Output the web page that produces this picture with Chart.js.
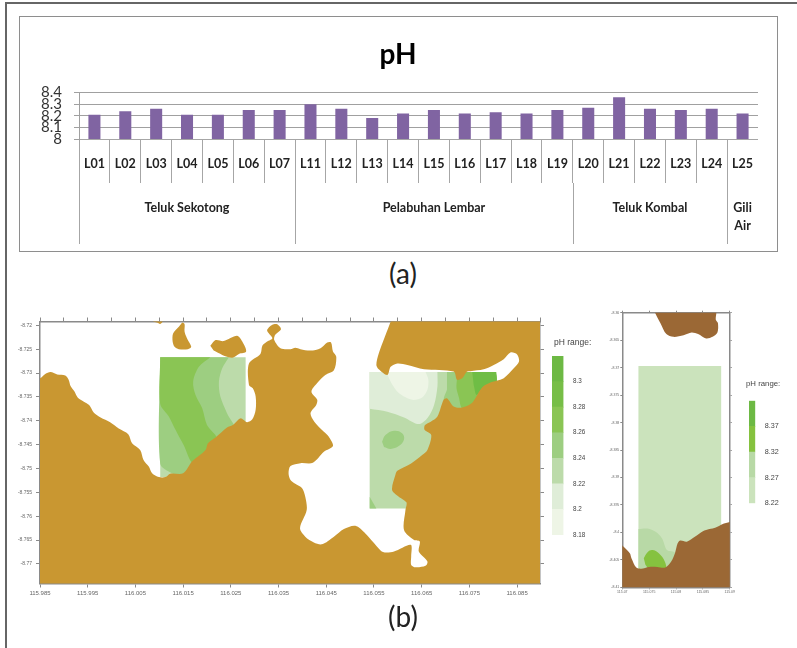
<!DOCTYPE html>
<html>
<head>
<meta charset="utf-8">
<script src="https://cdn.jsdelivr.net/npm/chart.js@4"></script>
<style>
  body { margin: 0; background: #fff; width: 797px; height: 648px; overflow: hidden; position: relative; }
  canvas, .frame, .caption, .range-title { position: absolute; }
  .page-frame { left: 5px; top: 2px; width: 800px; height: 660px; border-left: 2px solid #666; border-top: 2px solid #666; }
  .bar-frame { left: 19px; top: 16px; width: 757px; height: 234px; border: 1.5px solid #8e8e8e; }
  .caption { font: 28px Lato, sans-serif; color: #222; width: 60px; text-align: center; left: 373px; }
  .range-title { font-family: "Liberation Sans", sans-serif; color: #444; will-change: transform; }
  #phBars { left: 38px; top: 18px; }
  #mapLombok { left: 8px; top: 317px; }
  #rangeLombok { left: 552px; top: 350px; }
  #mapGili { left: 608px; top: 310px; }
  #rangeGili { left: 749px; top: 395px; }
</style>
</head>
<body>
<div class="frame page-frame"></div>
<div class="frame bar-frame"></div>
<canvas id="phBars" width="720" height="233"></canvas>
<div class="caption" style="top:256px">(a)</div>
<canvas id="mapLombok" width="537" height="284"></canvas>
<canvas id="rangeLombok" width="42" height="192"></canvas>
<div class="range-title" style="left:554px;top:337px;font-size:8.5px">pH range:</div>
<canvas id="mapGili" width="128" height="290"></canvas>
<canvas id="rangeGili" width="40" height="115"></canvas>
<div class="range-title" style="left:746px;top:379px;font-size:7.8px">pH range:</div>
<div class="caption" style="top:599px">(b)</div>
<script>
// (a) bar chart
const stations = ['L01', 'L02', 'L03', 'L04', 'L05', 'L06', 'L07', 'L11', 'L12', 'L13', 'L14', 'L15', 'L16', 'L17', 'L18', 'L19', 'L20', 'L21', 'L22', 'L23', 'L24', 'L25'];
const phValues = [8.21, 8.24, 8.26, 8.21, 8.21, 8.25, 8.25, 8.3, 8.26, 8.18, 8.22, 8.25, 8.22, 8.23, 8.22, 8.25, 8.27, 8.36, 8.26, 8.25, 8.26, 8.22];
const phTicks = [8, 8.1, 8.2, 8.3, 8.4];
const groupNames = [['Teluk Sekotong'], ['Pelabuhan Lembar'], ['Teluk Kombal'], ['Gili', 'Air']];
const groupCounts = [7, 9, 5, 1];

// (b) left map, lon/lat
const lombokXLabels = [115.985, 115.995, 116.005, 116.015, 116.025, 116.035, 116.045, 116.055, 116.065, 116.075, 116.085];
const lombokXMarks = [115.985, 115.99, 115.995, 116, 116.005, 116.01, 116.015, 116.02, 116.025, 116.03, 116.035, 116.04, 116.045, 116.05, 116.055, 116.06, 116.065, 116.07, 116.075, 116.08, 116.085, 116.09];
const lombokYLabels = [-8.72, -8.725, -8.73, -8.735, -8.74, -8.745, -8.75, -8.755, -8.76, -8.765, -8.77];

const lombokCoast = [
  [115.98, -8.7325], [115.985, -8.7311], [115.9861, -8.7302], [115.9872, -8.7298], [115.9886, -8.7303], [115.9903, -8.7305],
  [115.991, -8.7314], [115.9914, -8.7327], [115.9922, -8.7338], [115.9929, -8.7351], [115.9942, -8.736], [115.9953, -8.7367],
  [115.9963, -8.7383], [115.9977, -8.7393], [115.9997, -8.7403], [116.0015, -8.7416], [116.0035, -8.7428], [116.0043, -8.7447],
  [116.006, -8.7461], [116.0067, -8.7482], [116.0078, -8.7496], [116.0085, -8.751], [116.0099, -8.7518], [116.0113, -8.7518],
  [116.0123, -8.7511], [116.015, -8.751], [116.0169, -8.7485], [116.0197, -8.7461], [116.0202, -8.7447], [116.0218, -8.7435],
  [116.0242, -8.7414], [116.0254, -8.7409], [116.027, -8.7395], [116.0284, -8.7403], [116.0295, -8.7397], [116.0302, -8.7377],
  [116.0302, -8.7349], [116.0296, -8.7332], [116.0288, -8.7325], [116.0288, -8.728], [116.0312, -8.726], [116.0316, -8.7243],
  [116.0326, -8.7234], [116.0337, -8.7227], [116.0326, -8.7211], [116.0337, -8.7199], [116.0347, -8.7198], [116.0355, -8.7208],
  [116.0343, -8.722], [116.0341, -8.7231], [116.0354, -8.7248], [116.0375, -8.725], [116.0385, -8.7247], [116.0396, -8.725],
  [116.0417, -8.7253], [116.0438, -8.7248], [116.0452, -8.7236], [116.046, -8.7236], [116.0464, -8.7255], [116.0471, -8.7266],
  [116.0466, -8.7294], [116.0448, -8.7304], [116.0431, -8.7321], [116.0419, -8.7339], [116.0431, -8.7356], [116.0429, -8.7367],
  [116.0417, -8.7384], [116.0425, -8.7402], [116.0445, -8.7423], [116.0455, -8.7433], [116.0464, -8.7453], [116.0445, -8.7465],
  [116.0422, -8.7488], [116.0396, -8.7489], [116.0375, -8.7495], [116.0371, -8.751], [116.0375, -8.7524], [116.0385, -8.7532],
  [116.0399, -8.7541], [116.0406, -8.7559], [116.0409, -8.7587], [116.0395, -8.7625], [116.0406, -8.7643], [116.0424, -8.7655],
  [116.0441, -8.7659], [116.0466, -8.7643], [116.0487, -8.7627], [116.0511, -8.762], [116.0532, -8.7636], [116.055, -8.7656],
  [116.0569, -8.7675], [116.0592, -8.7674], [116.0627, -8.766], [116.0628, -8.7684], [116.0628, -8.7702], [116.0637, -8.7707],
  [116.0658, -8.7704], [116.0662, -8.7695], [116.0644, -8.7674], [116.0646, -8.7653], [116.0634, -8.765], [116.0613, -8.7629],
  [116.0616, -8.7587], [116.0618, -8.7571], [116.0602, -8.7559], [116.0588, -8.7545], [116.0595, -8.7513], [116.0599, -8.7505],
  [116.0627, -8.749], [116.0651, -8.7472], [116.0662, -8.7461], [116.067, -8.743], [116.0656, -8.7419], [116.0657, -8.7409],
  [116.0669, -8.7402], [116.0683, -8.7391], [116.0696, -8.7356], [116.0703, -8.7353], [116.0717, -8.737], [116.0735, -8.7372],
  [116.0756, -8.7362], [116.0777, -8.733], [116.0794, -8.732], [116.0807, -8.7316], [116.0822, -8.7311], [116.0843, -8.729],
  [116.0854, -8.7276], [116.085, -8.7261], [116.0836, -8.7257], [116.0822, -8.7271], [116.0801, -8.7283], [116.078, -8.7292],
  [116.0752, -8.7296], [116.0745, -8.7297], [116.0735, -8.7311], [116.0724, -8.7314], [116.0717, -8.7297], [116.0655, -8.7292],
  [116.062, -8.7283], [116.0599, -8.728], [116.0585, -8.7287], [116.0578, -8.7304], [116.056, -8.7292], [116.0555, -8.7283],
  [116.056, -8.7259], [116.0585, -8.7192], [116.0596, -8.716], [116.095, -8.716], [116.095, -8.779], [115.98, -8.779]
];
const islandTop = [[116.0087, -8.7192], [116.0095, -8.7194], [116.0102, -8.7197], [116.0107, -8.7192], [116.0107, -8.718], [116.0087, -8.718]];
const islandMiddle = [
  [116.0148, -8.7194], [116.0153, -8.7197], [116.0153, -8.7213], [116.0158, -8.7227], [116.0167, -8.7245], [116.016, -8.725],
  [116.0141, -8.725], [116.0132, -8.7245], [116.0128, -8.7234], [116.0129, -8.7217], [116.0141, -8.7203]
];
const islandEast = [
  [116.0207, -8.7243], [116.0218, -8.7231], [116.0235, -8.7233], [116.0263, -8.7222], [116.0274, -8.7234], [116.0282, -8.7255],
  [116.0267, -8.726], [116.0253, -8.7268], [116.0232, -8.7262], [116.0214, -8.7253]
];

const sekotongBox = [[116.0102, -8.7267], [116.0281, -8.7267], [116.0281, -8.7518], [116.0102, -8.7518]];
const sekotongMid = [
  [116.0246, -8.7267], [116.0232, -8.729], [116.0225, -8.7318], [116.0228, -8.7349], [116.0242, -8.7384], [116.026, -8.7426],
  [116.0158, -8.7524], [116.0127, -8.751], [116.0102, -8.749], [116.0102, -8.7267], [116.0102, -8.7267]
];
const sekotongHigh = [
  [116.0207, -8.7267], [116.0183, -8.7287], [116.0171, -8.7318], [116.0176, -8.7346], [116.019, -8.7374], [116.02, -8.7409],
  [116.0221, -8.744], [116.0172, -8.7489], [116.0151, -8.7451], [116.0134, -8.7419], [116.012, -8.7391], [116.0102, -8.7365],
  [116.0102, -8.7267], [116.0102, -8.7267]
];
const lembarBox = [[116.0541, -8.7298], [116.0806, -8.7298], [116.0806, -8.7584], [116.0541, -8.7584]];
const lembarPale = [
  [116.0541, -8.7298], [116.0541, -8.7298], [116.0683, -8.7298], [116.0683, -8.7298], [116.0683, -8.7328], [116.0676, -8.7367],
  [116.0663, -8.7393], [116.0644, -8.7407], [116.0613, -8.7393], [116.0578, -8.7381], [116.0541, -8.7375], [116.0541, -8.7375]
];
const lembarPalest = [
  [116.0576, -8.7298], [116.0585, -8.7318], [116.0602, -8.7342], [116.063, -8.7356], [116.0651, -8.7351], [116.0662, -8.7335],
  [116.0664, -8.7314], [116.0658, -8.7298], [116.0658, -8.7298], [116.0576, -8.7298]
];
const lembarMid = [
  [116.0703, -8.7298], [116.0703, -8.7298], [116.0806, -8.7298], [116.0806, -8.7298], [116.0806, -8.7328], [116.0752, -8.7377],
  [116.0703, -8.7374], [116.0696, -8.7356], [116.0703, -8.7335]
];
const lembarHigh = [
  [116.0738, -8.7298], [116.0738, -8.7298], [116.0806, -8.7298], [116.0806, -8.7298], [116.0806, -8.7328], [116.0756, -8.737],
  [116.0735, -8.7374], [116.0728, -8.7351], [116.0723, -8.7332], [116.0724, -8.7311]
];
const lembarTop = [
  [116.0756, -8.7298], [116.0756, -8.7298], [116.0806, -8.7298], [116.0806, -8.7298], [116.0806, -8.7318], [116.0777, -8.7332],
  [116.0765, -8.7346], [116.0759, -8.7325]
];
const lembarOval = [
  [116.0567, -8.7444], [116.0574, -8.743], [116.0592, -8.7421], [116.0609, -8.7426], [116.0613, -8.7439], [116.0602, -8.7453],
  [116.0585, -8.7459], [116.0571, -8.7455]
];
const lembarCorner = [[116.0541, -8.7559], [116.0555, -8.7584], [116.0541, -8.7584]];

const lombokLevels = [8.18, 8.2, 8.22, 8.24, 8.26, 8.28, 8.3, 8.32];
const lombokLevelLabels = [8.18, 8.2, 8.22, 8.24, 8.26, 8.28, 8.3];
const lombokLevelColors = ['#eef5e6', '#dfedd8', '#bcdbaa', '#9dce81', '#8ac554', '#77be47', '#6db944'];

// (b) right map
const giliXLabels = [115.07, 115.075, 115.08, 115.085, 115.09];
const giliYLabels = [-8.36, -8.365, -8.37, -8.375, -8.38, -8.385, -8.39, -8.395, -8.4, -8.405, -8.41];
const giliNorth = [
  [115.0755, -8.358], [115.0761, -8.36], [115.0771, -8.3619], [115.0782, -8.3639], [115.0795, -8.3644], [115.0814, -8.3641],
  [115.0829, -8.3636], [115.0841, -8.3639], [115.0856, -8.3647], [115.0868, -8.3644], [115.0877, -8.3636], [115.0878, -8.3619],
  [115.0874, -8.3613], [115.0875, -8.36], [115.0875, -8.358]
];
const giliSouth = [
  [115.069, -8.4015], [115.07, -8.4024], [115.0714, -8.4038], [115.0717, -8.4047], [115.0726, -8.4064], [115.0735, -8.4066],
  [115.075, -8.4063], [115.0765, -8.4063], [115.078, -8.4064], [115.0791, -8.4053], [115.0798, -8.4038], [115.0803, -8.402],
  [115.0808, -8.4015], [115.082, -8.4017], [115.0835, -8.4008], [115.085, -8.3998], [115.0862, -8.3994], [115.0874, -8.3991],
  [115.0886, -8.3985], [115.09, -8.3981], [115.092, -8.3975], [115.092, -8.412], [115.069, -8.412]
];
const giliBox = [[115.073, -8.3697], [115.0884, -8.3697], [115.0884, -8.4066], [115.073, -8.4066]];
const giliMid = [
  [115.073, -8.3994], [115.0747, -8.3993], [115.0762, -8.3999], [115.0774, -8.4011], [115.0783, -8.4032], [115.0798, -8.4037],
  [115.0792, -8.4066], [115.073, -8.4066], [115.073, -8.4066], [115.073, -8.3994]
];
const giliHigh = [
  [115.074, -8.4047], [115.0747, -8.4036], [115.0756, -8.4032], [115.0768, -8.4038], [115.0779, -8.4053], [115.078, -8.4066],
  [115.075, -8.4066], [115.0743, -8.4059]
];
const giliLevels = [8.22, 8.27, 8.32, 8.37, 8.42];
const giliLevelLabels = [8.22, 8.27, 8.32, 8.37];
const giliLevelColors = ['#cbe3bc', '#b8d9a6', '#85c23f', '#6db944'];

const LOMBOK_LAND = '#c99731';
const GILI_LAND = '#9b6835';
const AXIS_GRAY = '#8a8a8a';
const TICK_TEXT = '#666';

Chart.defaults.animation = false;
Chart.defaults.responsive = false;
Chart.defaults.events = [];
Chart.defaults.plugins.legend.display = false;
Chart.defaults.plugins.tooltip.enabled = false;

const setTicks = (values) => (scale) => {
  scale.ticks = values.map((value) => ({ value }));
};
// padding is zeroed too, otherwise tick padding pushes the chart area down
const fixWidth = (w) => (scale) => {
  scale.width = w;
  scale.paddingTop = 0;
  scale.paddingBottom = 0;
};
const fixHeight = (h) => (scale) => { scale.height = h; };

// level labels and long separators under the station labels
const stationGroupsPlugin = {
  id: 'stationGroups',
  afterDraw(chart) {
    const { ctx, scales: { x } } = chart;
    const top = x.top + 44;
    let start = 0;
    ctx.save();
    ctx.strokeStyle = '#a6a6a6';
    ctx.lineWidth = 1;
    ctx.fillStyle = '#222';
    ctx.font = 'bold 12.5px Lato, sans-serif';
    ctx.textAlign = 'center';
    ctx.textBaseline = 'middle';
    const drawEdge = (index) => {
      const px = Math.round(x.getPixelForValue(index - 0.5)) + 0.5;
      ctx.beginPath();
      ctx.moveTo(px, top);
      ctx.lineTo(px, top + 61);
      ctx.stroke();
    };
    drawEdge(0);
    groupCounts.forEach((count, i) => {
      const end = start + count;
      const mid = x.getPixelForValue(start - 0.5 + count / 2);
      groupNames[i].forEach((line, n) => {
        ctx.fillText(line, mid, top + 25 + n * 18);
      });
      drawEdge(end);
      start = end;
    });
    ctx.restore();
  },
};

new Chart(document.getElementById('phBars'), {
  type: 'bar',
  data: {
    labels: stations,
    datasets: [{
      data: phValues,
      backgroundColor: '#8064a2',
      barPercentage: 0.39,
      categoryPercentage: 1,
    }],
  },
  options: {
    plugins: {
      title: {
        display: true,
        text: 'pH',
        color: '#000',
        font: { family: 'Lato, sans-serif', size: 28, weight: 'bold' },
        padding: { top: 20, bottom: 21 },
      },
    },
    scales: {
      x: {
        afterFit: fixHeight(112),
        grid: { offset: true, drawOnChartArea: false, tickLength: 44, color: '#a6a6a6' },
        border: { color: '#a6a6a6' },
        ticks: {
          autoSkip: false,
          maxRotation: 0,
          padding: -27,
          color: '#222',
          font: { family: 'Lato, sans-serif', size: 12.5, weight: 'bold' },
        },
      },
      y: {
        min: 8,
        max: 8.4,
        afterFit: fixWidth(41),
        afterBuildTicks: setTicks(phTicks),
        grid: { color: '#a0a0a0', tickLength: 5 },
        border: { color: '#a0a0a0' },
        ticks: {
          autoSkip: false,
          padding: 12,
          color: '#333',
          font: { family: 'Lato, sans-serif', size: 15 },
          callback: (value) => (value === 8 ? '8' : value.toFixed(1)),
        },
      },
    },
  },
  plugins: [stationGroupsPlugin],
});

const shape = (points, color, tension) => ({
  data: points.map(([x, y]) => ({ x, y })),
  showLine: true,
  fill: 'shape',
  backgroundColor: color,
  borderWidth: 0,
  pointRadius: 0,
  tension,
});

// layers are listed back to front, chart.js paints the first dataset last
const makeMap = (id, cfg) => new Chart(document.getElementById(id), {
  type: 'scatter',
  data: { datasets: cfg.layers.slice().reverse() },
  options: {
    scales: {
      x: {
        min: cfg.xMin,
        max: cfg.xMax,
        afterFit: fixHeight(cfg.bottom),
        afterBuildTicks: setTicks(cfg.xLabels),
        grid: { drawOnChartArea: false, color: AXIS_GRAY, tickLength: cfg.tick },
        border: { color: AXIS_GRAY, width: 1.5 },
        ticks: {
          autoSkip: false,
          maxRotation: 0,
          padding: cfg.pad,
          color: TICK_TEXT,
          font: { family: 'Liberation Sans', size: cfg.font },
          callback: (value) => String(value),
        },
      },
      y: {
        min: cfg.yMin,
        max: cfg.yMax,
        afterFit: fixWidth(cfg.left),
        afterBuildTicks: setTicks(cfg.yLabels),
        grid: { drawOnChartArea: false, color: AXIS_GRAY, tickLength: cfg.tick },
        border: { color: AXIS_GRAY, width: 1.5 },
        ticks: {
          autoSkip: false,
          padding: cfg.yPad,
          color: TICK_TEXT,
          font: { family: 'Liberation Sans', size: cfg.yFont, lineHeight: 1 },
          callback: (value) => String(value),
        },
      },
      xTop: {
        axis: 'x',
        type: 'linear',
        position: 'top',
        min: cfg.xMin,
        max: cfg.xMax,
        afterFit: fixHeight(cfg.top),
        afterBuildTicks: setTicks(cfg.xMarks),
        grid: { drawOnChartArea: false, color: AXIS_GRAY, tickLength: cfg.tick },
        border: { color: AXIS_GRAY, width: 1.5 },
        ticks: { display: false, autoSkip: false },
      },
      yRight: {
        axis: 'y',
        type: 'linear',
        position: 'right',
        min: cfg.yMin,
        max: cfg.yMax,
        afterFit: fixWidth(cfg.right),
        afterBuildTicks: setTicks(cfg.yLabels),
        grid: { drawOnChartArea: false, color: AXIS_GRAY, tickLength: cfg.tick },
        border: { color: AXIS_GRAY, width: 1.5 },
        ticks: { display: false, autoSkip: false },
      },
    },
  },
});

const makeRange = (id, levels, labels, colors, cfg) => new Chart(document.getElementById(id), {
  type: 'bar',
  data: {
    labels: ['pH'],
    datasets: colors.map((color, i) => ({
      data: [[levels[i], levels[i + 1]]],
      backgroundColor: color,
      barPercentage: 1,
      categoryPercentage: 1,
    })),
  },
  options: {
    grouped: false,
    layout: { padding: { top: cfg.top, bottom: cfg.bottom } },
    scales: {
      x: { display: false },
      y: {
        position: 'right',
        min: levels[0],
        max: levels[levels.length - 1],
        afterFit: fixWidth(cfg.labelWidth),
        afterBuildTicks: setTicks(labels),
        grid: { display: false },
        border: { display: false },
        ticks: {
          autoSkip: false,
          padding: 1.5,
          color: '#444',
          font: { family: 'Liberation Sans', size: cfg.font },
          callback: (value) => String(value),
        },
      },
    },
  },
});

makeMap('mapLombok', {
  xMin: 115.985, xMax: 116.0898, yMin: -8.7741, yMax: -8.7192,
  xLabels: lombokXLabels, xMarks: lombokXMarks, yLabels: lombokYLabels,
  left: 32, right: 5, top: 4.5, bottom: 17.5, tick: 4, pad: 2, yPad: 4, font: 6, yFont: 5,
  layers: [
    shape(sekotongBox, '#bcdbaa', 0),
    shape(sekotongMid, '#9dce81', 0.3),
    shape(sekotongHigh, '#8ac554', 0.3),
    shape(lembarBox, '#bcdbaa', 0),
    shape(lembarPale, '#dfedd8', 0.3),
    shape(lembarPalest, '#eef5e6', 0.3),
    shape(lembarMid, '#9dce81', 0.3),
    shape(lembarHigh, '#8ac554', 0.3),
    shape(lembarTop, '#6fbd45', 0.3),
    shape(lembarOval, '#9dce81', 0.4),
    shape(lembarCorner, '#9dce81', 0),
    shape(lombokCoast, LOMBOK_LAND, 0.3),
    shape(islandTop, LOMBOK_LAND, 0.3),
    shape(islandMiddle, LOMBOK_LAND, 0.3),
    shape(islandEast, LOMBOK_LAND, 0.3),
  ],
});

makeRange('rangeLombok', lombokLevels, lombokLevelLabels, lombokLevelColors, {
  top: 6, bottom: 7, labelWidth: 30.5, font: 6.3,
});

makeMap('mapGili', {
  xMin: 115.07, xMax: 115.09, yMin: -8.41, yMax: -8.36,
  xLabels: giliXLabels, xMarks: giliXLabels, yLabels: giliYLabels,
  left: 14.3, right: 3.3, top: 2.7, bottom: 12.7, tick: 2, pad: 1, yPad: 1, font: 3.5, yFont: 3.5,
  layers: [
    shape(giliBox, '#cbe3bc', 0),
    shape(giliMid, '#b8d9a6', 0.3),
    shape(giliHigh, '#85c23f', 0.4),
    shape(giliNorth, GILI_LAND, 0.3),
    shape(giliSouth, GILI_LAND, 0.3),
  ],
});

makeRange('rangeGili', giliLevels, giliLevelLabels, giliLevelColors, {
  top: 5.7, bottom: 6.7, labelWidth: 33.7, font: 7.2,
});
</script>
</body>
</html>
